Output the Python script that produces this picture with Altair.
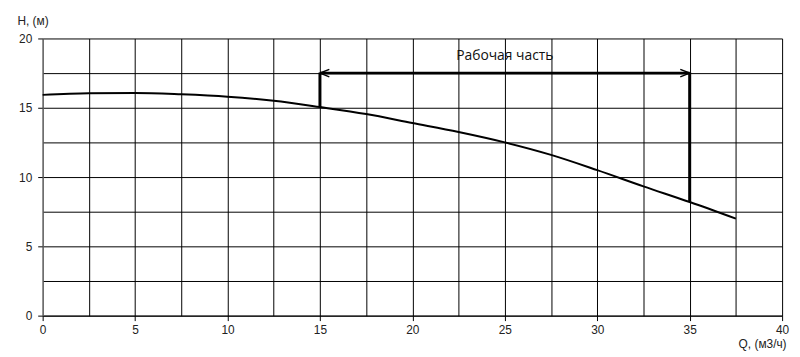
import altair as alt
import pandas as pd

# Pump curve data
q_vals = [0, 2.5, 5, 7.5, 10, 12.5, 15, 17.5, 20, 22.5, 25, 27.5, 30, 32.5, 35, 37.5]
h_vals = [15.93, 16.05, 16.07, 15.97, 15.8, 15.5, 15.05, 14.55, 13.9, 13.25, 12.5, 11.6, 10.5, 9.33, 8.2, 7.0]

# Working range
work_q = [15, 35]
work_h_low = [15.05, 8.2]
work_top = 17.5
label_text = "Рабочая часть"
label_q = 25
label_h = 18.7

x_ticks = [i * 2.5 for i in range(17)]
y_ticks = [i * 2.5 for i in range(9)]

FONT = "Liberation Sans"

curve = pd.DataFrame({"q": q_vals, "h": h_vals})
verts = pd.DataFrame({"q": work_q, "h": work_h_low, "h2": [work_top, work_top]})
hline = pd.DataFrame({"q": [work_q[0]], "q2": [work_q[1]], "h": [work_top]})
lab = pd.DataFrame({"q": [label_q], "h": [label_h], "t": [label_text]})
left_tip = pd.DataFrame({"q": [work_q[0]], "h": [work_top]})
right_tip = pd.DataFrame({"q": [work_q[1]], "h": [work_top]})

xscale = alt.Scale(domain=[0, 40], nice=False)
yscale = alt.Scale(domain=[0, 20], nice=False)

tick_cond = {"condition": {"test": "datum.value % 5 !== 0", "value": "transparent"}, "value": "black"}

x_axis = alt.Axis(
    values=x_ticks,
    labelExpr="datum.value % 5 === 0 ? datum.label : ''",
    grid=True, gridColor="black", gridWidth=1, gridOpacity=1,
    domainColor="black", tickColor=tick_cond, tickSize=5,
    labelFont=FONT, labelFontSize=12, labelColor="#222", labelPadding=4,
    title="Q, (м3/ч)", titleFont=FONT, titleFontSize=12, titleFontWeight="normal",
    titleColor="#222", titleAlign="right", titleBaseline="alphabetic",
    titleX=751, titleY=32, labelFlush=False,
)
y_axis = alt.Axis(
    values=y_ticks,
    labelExpr="datum.value % 5 === 0 ? datum.label : ''",
    grid=True, gridColor="black", gridWidth=1, gridOpacity=1,
    domainColor="#777", tickColor=tick_cond, tickSize=5,
    labelFont=FONT, labelFontSize=12, labelColor="#222", labelPadding=6,
    title="H, (м)", titleFont=FONT, titleFontSize=12, titleFontWeight="normal",
    titleColor="#222", titleAngle=0, titleAlign="left", titleBaseline="alphabetic",
    titleX=-26, titleY=-14, labelFlush=False,
)

X = alt.X("q:Q", scale=xscale, axis=x_axis)
Y = alt.Y("h:Q", scale=yscale, axis=y_axis)

line = alt.Chart(curve).mark_line(color="black", strokeWidth=2, interpolate="monotone").encode(x=X, y=Y)

vrules = alt.Chart(verts).mark_rule(color="black", strokeWidth=3).encode(x=X, y=Y, y2="h2:Q")

hrule = alt.Chart(hline).mark_rule(color="black", strokeWidth=3).encode(x=X, x2="q2:Q", y=Y)

ltip = alt.Chart(left_tip).mark_point(
    shape="M2,-0.8L0,0L2,0.8", filled=False, size=90, strokeWidth=1.5, color="black", opacity=1
).encode(x=X, y=Y)
rtip = alt.Chart(right_tip).mark_point(
    shape="M-2,-0.8L0,0L-2,0.8", filled=False, size=90, strokeWidth=1.5, color="black", opacity=1
).encode(x=X, y=Y)

text = alt.Chart(lab).mark_text(font="Open Sans", fontSize=14, color="#111", align="center", baseline="middle").encode(
    x=X, y=Y, text="t:N",
)

chart = alt.layer(line, vrules, hrule, ltip, rtip, text).properties(
    width=747, height=280,
    autosize=alt.AutoSizeParams(type="none"),
    padding={"left": 35, "top": 29, "right": 10, "bottom": 40},
    background="white",
).configure_view(stroke=None)

chart.save("out.html", embed_options={"renderer": "svg", "actions": False})
